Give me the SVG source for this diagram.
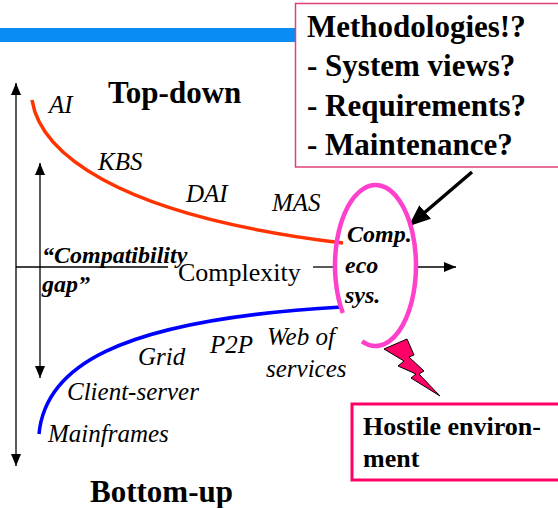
<svg xmlns="http://www.w3.org/2000/svg" width="558" height="508" viewBox="0 0 558 508">
<defs>
<style>
text{font-family:'Liberation Serif',Tinos,'Times New Roman',Times,'Noto Serif','DejaVu Serif',serif;fill:#000}
.b{font-weight:bold}
.big{font-size:31px}
.lbl{font-size:25px;font-style:italic}
.bi{font-size:24px;font-weight:bold;font-style:italic}
.ax{stroke:#000;stroke-width:1.3;fill:none}
</style>
<marker id="ah" markerWidth="12" markerHeight="10" refX="12" refY="5" orient="auto-start-reverse" markerUnits="userSpaceOnUse">
<path d="M0,0 L12,5 L0,10 Z" fill="#000"/>
</marker>
<marker id="bh" markerWidth="22" markerHeight="18" refX="20" refY="9" orient="auto" markerUnits="userSpaceOnUse">
<path d="M0,0 L22,9 L0,18 Z" fill="#000"/>
</marker>
</defs>
<rect width="558" height="508" fill="#fff"/>
<rect x="0" y="28" width="296" height="14" fill="#0A8CF5"/>

<g id="connectors">
<line class="ax" x1="16" y1="466" x2="16" y2="83" marker-end="url(#ah)" marker-start="url(#ah)"/>
<line class="ax" x1="40" y1="378" x2="40" y2="163" marker-end="url(#ah)" marker-start="url(#ah)"/>
<line class="ax" x1="16" y1="267" x2="168" y2="267"/>
<line class="ax" x1="313" y1="267" x2="334" y2="267"/>
<line class="ax" x1="418" y1="267" x2="456" y2="267" marker-end="url(#ah)"/>
<path d="M472,172 L410,225" stroke="#000" stroke-width="3.5" fill="none" marker-end="url(#bh)"/>
</g>

<g id="topdown-curve">
<path d="M32,100 C40,150 110,215 343,243" stroke="#FF3300" stroke-width="3.5" fill="none"/>
</g>
<g id="bottomup-curve">
<path d="M39,434 C45,370 110,320 342,307" stroke="#0000FF" stroke-width="3.5" fill="none"/>
</g>

<g id="ecosystem">
<path d="M362,341.4 A40.5,80.5 0 1 0 342.8,313" stroke="#FF40CC" stroke-width="4.5" fill="none"/>
<text class="bi" x="347" y="242">Comp.</text>
<text class="bi" x="345" y="273">eco</text>
<text class="bi" x="345" y="303">sys.</text>
</g>

<g id="methodologies">
<rect x="295.5" y="3.5" width="270" height="163.5" fill="#fff" stroke="#E0407A" stroke-width="1.5"/>
<text class="b" font-size="31" x="307" y="37">Methodologies!?</text>
<text class="b" font-size="31" x="307" y="76">- System views?</text>
<text class="b" font-size="31" x="307" y="115.5">- Requirements?</text>
<text class="b" font-size="31" x="307" y="155">- Maintenance?</text>
</g>

<g id="lightning">
<polygon points="384,349 407,339 414,355 409,357 424,371 419,374 440,396 411,378 416,374 398,366 404,361" fill="#FF0066" stroke="#000" stroke-width="1"/>
</g>

<g id="hostile">
<rect x="352" y="404" width="220" height="76" fill="#fff" stroke="#FF0066" stroke-width="3"/>
<text class="b" font-size="26" x="363" y="435">Hostile environ-</text>
<text class="b" font-size="26" x="363" y="467">ment</text>
</g>

<g id="labels">
<text class="b big" x="108" y="103">Top-down</text>
<text class="b big" x="90" y="502">Bottom-up</text>
<text class="lbl" x="49" y="113">AI</text>
<text class="lbl" x="98" y="170">KBS</text>
<text class="lbl" x="186" y="202">DAI</text>
<text class="lbl" x="272" y="211">MAS</text>
<text class="bi" x="42" y="263">“Compatibility</text>
<text class="bi" x="42" y="292">gap”</text>
<text font-size="26" x="178" y="281">Complexity</text>
<text class="lbl" x="267" y="345">Web of</text>
<text class="lbl" x="266" y="377">services</text>
<text class="lbl" x="210" y="353">P2P</text>
<text class="lbl" x="138" y="365">Grid</text>
<text class="lbl" x="67" y="400">Client-server</text>
<text class="lbl" x="48" y="442">Mainframes</text>
</g>
</svg>
